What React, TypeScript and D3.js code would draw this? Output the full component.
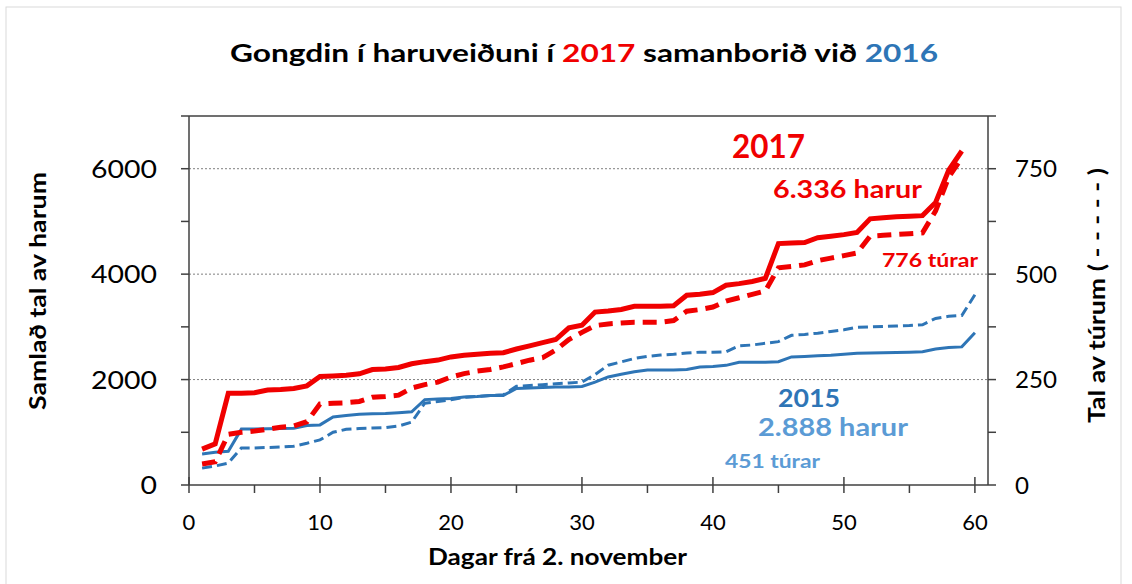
import * as d3 from 'd3';

// days since 2. november
const daysRed = d3.range(1, 60);
const daysBlue = d3.range(1, 61);

// 2017 harur (cumulative, left axis)
const hares2017 = [
  680, 780, 1740, 1740, 1750, 1800, 1810, 1830, 1880, 2060,
  2070, 2080, 2110, 2190, 2200, 2230, 2300, 2340, 2370, 2430,
  2460, 2480, 2500, 2510, 2580, 2640, 2700, 2760, 2980, 3030,
  3280, 3300, 3330, 3390, 3390, 3390, 3400, 3600, 3620, 3650,
  3790, 3820, 3860, 3920, 4580, 4590, 4600, 4690, 4720, 4750,
  4790, 5050, 5070, 5090, 5100, 5110, 5360, 5970, 6336,
];
// 2017 túrar (cumulative, right axis)
const trips2017 = [
  50, 55, 120, 125, 128, 132, 137, 140, 150, 192,
  194, 195, 198, 208, 210, 213, 230, 238, 244, 256,
  264, 270, 274, 280, 288, 296, 302, 320, 345, 362,
  378, 382, 384, 386, 386, 386, 390, 412, 416, 422,
  436, 444, 452, 460, 515, 518, 522, 532, 538, 544,
  550, 590, 592, 594, 596, 598, 650, 730, 776,
];
// 2015 harur
const hares2015 = [
  590, 620, 640, 1060, 1060, 1065, 1070, 1075, 1130, 1140,
  1290, 1320, 1340, 1350, 1355, 1370, 1390, 1620, 1630, 1640,
  1670, 1680, 1700, 1700, 1830, 1840, 1850, 1860, 1860, 1870,
  1950, 2050, 2100, 2150, 2180, 2180, 2180, 2190, 2240, 2250,
  2270, 2330, 2330, 2330, 2340, 2430, 2440, 2450, 2460, 2480,
  2500, 2505, 2510, 2515, 2520, 2530, 2580, 2610, 2620, 2888,
];
// 2015 túrar
const trips2015 = [
  40, 45, 52, 88, 88, 89, 90, 92, 99, 107,
  125, 132, 134, 135, 136, 140, 149, 194, 198, 202,
  208, 210, 212, 214, 234, 236, 238, 240, 242, 244,
  262, 284, 292, 300, 305, 308, 310, 313, 315, 315,
  316, 330, 332, 336, 340, 355, 357, 360, 364, 368,
  374, 375, 376, 377, 378, 380, 395, 400, 402, 451,
];

const leftTicks = [0, 2000, 4000, 6000];
const rightTicks = [0, 250, 500, 750];
const xTicks = [0, 10, 20, 30, 40, 50, 60];

const RED = '#f00000';
const BLUE = '#2e75b6';
const LIGHT_BLUE = '#5b9bd5';
const FONT = 'Lato, "Open Sans", sans-serif';

export default function App() {
  const width = 1132;
  const height = 584;
  const m = { left: 189, right: 988, top: 116, bottom: 485 };

  const x = d3.scaleLinear().domain([0, 61]).range([m.left, m.right]);
  const y = d3.scaleLinear().domain([0, 7000]).range([m.bottom, m.top]);
  const y2 = d3.scaleLinear().domain([0, 875]).range([m.bottom, m.top]);

  const lineL = (days: number[], vals: number[]) =>
    d3.line<number>().x((_, i) => x(days[i])).y(d => y(d))(vals) || '';
  const lineR = (days: number[], vals: number[]) =>
    d3.line<number>().x((_, i) => x(days[i])).y(d => y2(d))(vals) || '';

  const digitW = 16.5;

  return (
    <svg width={width} height={height} style={{ position: 'absolute', left: 0, top: 0, background: '#fff' }}
      fontFamily={FONT}>
      <rect x={6} y={7} width={1115} height={590} fill="#fff" stroke="#d9d9d9" />

      <text x={230} y={62} fontSize={25} fontWeight="bold" fill="#000" textLength={708} lengthAdjust="spacingAndGlyphs">
        Gongdin í haruveiðuni í <tspan fill={RED}>2017</tspan> samanborið við <tspan fill={BLUE}>2016</tspan>
      </text>

      {/* gridlines */}
      {leftTicks.filter(t => t > 0).map(t => (
        <line key={t} x1={m.left} x2={m.right} y1={y(t)} y2={y(t)} stroke="#7f7f7f" strokeWidth={1} strokeDasharray="2,2" />
      ))}

      {/* frame */}
      <line x1={m.left} x2={m.right} y1={m.top} y2={m.top} stroke="#404040" strokeWidth={1.5} />
      <line x1={m.left} x2={m.left} y1={m.top} y2={m.bottom} stroke="#404040" strokeWidth={1.5} />
      <line x1={m.right} x2={m.right} y1={m.top} y2={m.bottom} stroke="#404040" strokeWidth={1.5} />
      <line x1={m.left} x2={m.right} y1={m.bottom} y2={m.bottom} stroke="#404040" strokeWidth={1.5} />

      {/* left ticks */}
      {d3.range(0, 7001, 1000).map(t => (
        <line key={'l' + t} x1={m.left - 8} x2={m.left} y1={y(t)} y2={y(t)} stroke="#404040" strokeWidth={1.5} />
      ))}
      {leftTicks.map(t => (
        <text key={'lt' + t} x={157} y={y(t)} dy="0.36em" textAnchor="end" fontSize={25} fill="#000"
          textLength={String(t).length * digitW} lengthAdjust="spacingAndGlyphs">{t}</text>
      ))}
      {/* right ticks */}
      {d3.range(0, 876, 125).map(t => (
        <line key={'r' + t} x1={m.right} x2={m.right + 8} y1={y2(t)} y2={y2(t)} stroke="#404040" strokeWidth={1.5} />
      ))}
      {rightTicks.map(t => (
        <text key={'rt' + t} x={1015} y={y2(t)} dy="0.36em" textAnchor="start" fontSize={24} fill="#000"
          textLength={String(t).length * 14} lengthAdjust="spacingAndGlyphs">{t}</text>
      ))}
      {/* x ticks */}
      {d3.range(0, 61, 5).map(t => (
        <line key={'x' + t} x1={x(t)} x2={x(t)} y1={t % 10 === 0 ? m.bottom - 8 : m.bottom}
          y2={m.bottom + 8} stroke="#404040" strokeWidth={1.5} />
      ))}
      {xTicks.map(t => (
        <text key={'xt' + t} x={x(t)} y={530} textAnchor="middle" fontSize={22} fill="#000">{t}</text>
      ))}

      {/* axis titles */}
      <text x={428} y={565} fontSize={22} fontWeight="bold" fill="#000" textLength={259} lengthAdjust="spacingAndGlyphs">
        Dagar frá 2. november
      </text>
      <text transform="translate(46,410) rotate(-90)" fontSize={22} fontWeight="bold" fill="#000"
        textLength={238} lengthAdjust="spacingAndGlyphs">
        Samlað tal av harum
      </text>
      <text transform="translate(1105,423) rotate(-90)" fontSize={22} fontWeight="bold" fill="#000"
        textLength={255} lengthAdjust="spacingAndGlyphs">
        Tal av túrum ( - - - - - )
      </text>

      {/* series */}
      <path d={lineR(daysBlue, trips2015)} fill="none" stroke={BLUE} strokeWidth={3} strokeDasharray="10,5" />
      <path d={lineL(daysBlue, hares2015)} fill="none" stroke={BLUE} strokeWidth={3} />
      <path d={lineR(daysRed, trips2017)} fill="none" stroke={RED} strokeWidth={5} strokeDasharray="14,8" />
      <path d={lineL(daysRed, hares2017)} fill="none" stroke={RED} strokeWidth={5} />

      {/* annotations */}
      <text x={732} y={158} fontSize={33} fontWeight="bold" fill={RED} textLength={73} lengthAdjust="spacingAndGlyphs">2017</text>
      <text x={773} y={198} fontSize={25} fontWeight="bold" fill={RED} textLength={149} lengthAdjust="spacingAndGlyphs">6.336 harur</text>
      <text x={882} y={267} fontSize={19} fontWeight="bold" fill={RED} textLength={96} lengthAdjust="spacingAndGlyphs">776 túrar</text>
      <text x={778} y={407} fontSize={24} fontWeight="bold" fill={BLUE} textLength={62} lengthAdjust="spacingAndGlyphs">2015</text>
      <text x={758} y={436} fontSize={24} fontWeight="bold" fill={LIGHT_BLUE} textLength={150} lengthAdjust="spacingAndGlyphs">2.888 harur</text>
      <text x={725} y={468} fontSize={18} fontWeight="bold" fill={LIGHT_BLUE} textLength={95} lengthAdjust="spacingAndGlyphs">451 túrar</text>
    </svg>
  );
}
